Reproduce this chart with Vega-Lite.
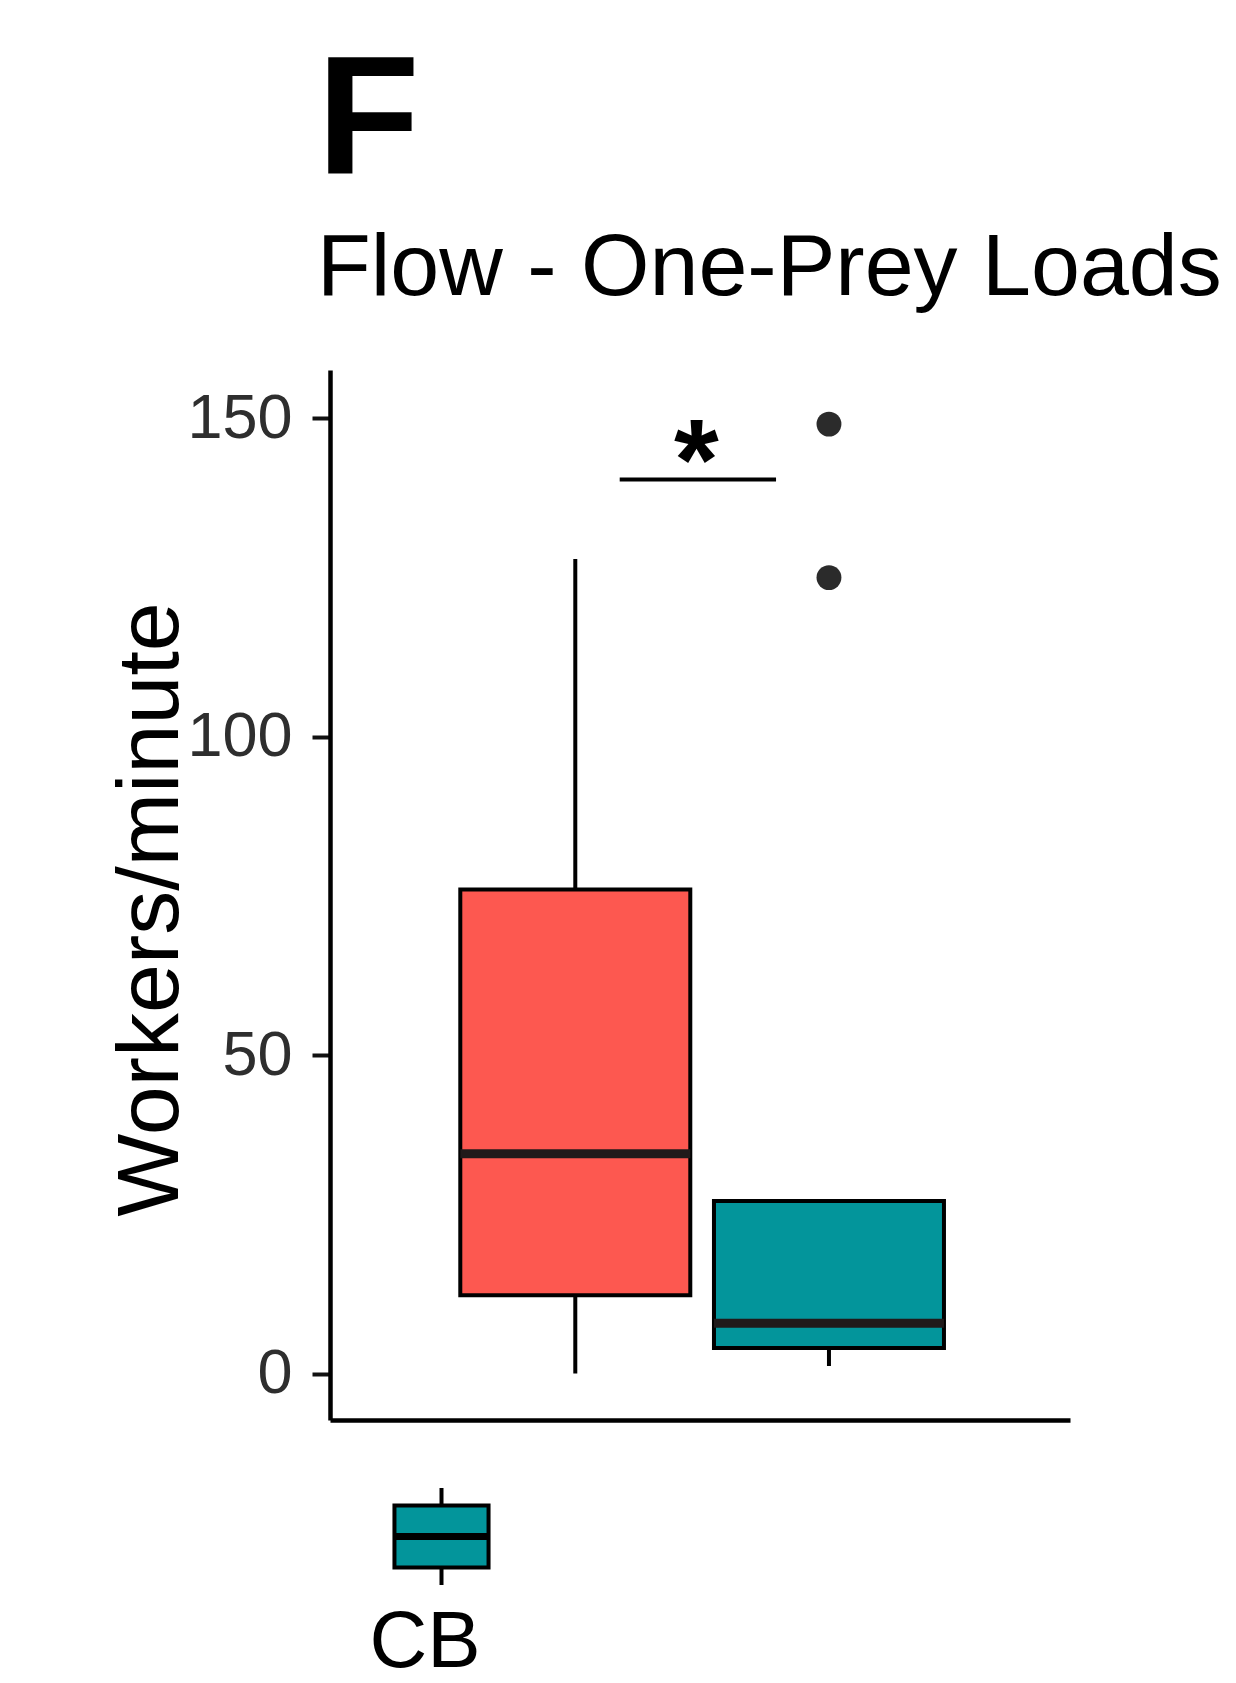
{
  "$schema": "https://vega.github.io/schema/vega-lite/v6.json",
  "autosize": {"type": "none"},
  "padding": {"left": 330, "top": 370, "right": 166, "bottom": 263},
  "width": 740,
  "height": 1050,
  "background": "white",
  "config": {
    "view": {"stroke": null},
    "font": "Liberation Sans"
  },
  "title": {
    "text": "F",
    "subtitle": "Flow - One-Prey Loads",
    "anchor": "start",
    "frame": "group",
    "offset": 56,
    "dx": -13,
    "font": "Liberation Sans",
    "fontSize": 168,
    "fontWeight": "bold",
    "color": "black",
    "subtitleFont": "Liberation Sans",
    "subtitleFontSize": 88,
    "subtitleColor": "black",
    "subtitlePadding": 16
  },
  "datasets": {
    "boxes": [
      {"group": "C", "pos": 0.795, "lower": 0, "q1": 12.3, "median": 34.5, "q3": 76.0, "upper": 127.9},
      {"group": "CB", "pos": 1.212, "lower": 1.2, "q1": 4.0, "median": 7.9, "q3": 27.1, "upper": 27.1}
    ],
    "outliers": [
      {"group": "CB", "pos": 1.212, "value": 149.1},
      {"group": "CB", "pos": 1.212, "value": 125.0}
    ],
    "signif": [
      {"start": 0.868, "end": 1.125, "y": 140.4, "label": "*", "mid": 0.994, "labelY": 137.4}
    ]
  },
  "layer": [
    {
      "data": {"name": "boxes"},
      "mark": {"type": "rule", "color": "black", "strokeWidth": 4},
      "encoding": {
        "x": {"field": "pos", "type": "quantitative", "scale": {"domain": [0.4, 1.6], "nice": false, "zero": false},
              "axis": {"title": null, "ticks": false, "labels": false, "grid": false, "domain": true, "domainColor": "black", "domainWidth": 4.5}},
        "y": {"field": "lower", "type": "quantitative", "scale": {"domain": [-7.3, 157.6], "nice": false, "zero": false},
              "axis": {"title": "Workers/minute", "values": [0, 50, 100, 150], "grid": false,
                       "domainColor": "black", "domainWidth": 4.5,
                       "tickColor": "#111111", "tickWidth": 4, "tickSize": 18,
                       "labelFontSize": 63, "labelColor": "#2e2e2e", "labelPadding": 20, "labelFont": "Liberation Sans",
                       "titleFontSize": 88, "titleColor": "black", "titleFont": "Liberation Sans", "titleFontWeight": "normal",
                       "titleAngle": -90, "titleX": -153, "titleY": 539, "titleAlign": "center", "titleBaseline": "alphabetic"}},
        "y2": {"field": "upper"}
      }
    },
    {
      "data": {"name": "boxes"},
      "mark": {"type": "bar", "orient": "vertical", "size": 230, "stroke": "black", "strokeWidth": 4, "opacity": 1},
      "encoding": {
        "x": {"field": "pos", "type": "quantitative"},
        "y": {"field": "q1", "type": "quantitative"},
        "y2": {"field": "q3"},
        "fill": {"field": "group", "type": "nominal",
                 "scale": {"domain": ["C", "CB"], "range": ["#FD5850", "#03959B"]},
                 "legend": {"values": ["CB"], "title": null, "orient": "none", "legendX": 61, "legendY": 1116,
                            "padding": 0,
                            "symbolType": "M-0.97,-0.64H0.97V0.64H-0.97Z M-0.97,-0.03H0.97 M-0.97,0.03H0.97 M0,-0.64V-1 M0,0.64V1",
                            "symbolSize": 9409, "symbolStrokeColor": "black", "symbolStrokeWidth": 4, "symbolOpacity": 1,
                            "labelFontSize": 80, "labelColor": "black", "labelFont": "Liberation Sans",
                            "labelAlign": "center", "labelBaseline": "alphabetic",
                            "encode": {"labels": {"update": {"dx": {"value": -71}, "dy": {"value": 130}}}}}}
      }
    },
    {
      "data": {"name": "boxes"},
      "mark": {"type": "tick", "orient": "horizontal", "size": 230, "thickness": 9, "color": "#201a1a", "opacity": 1},
      "encoding": {
        "x": {"field": "pos", "type": "quantitative"},
        "y": {"field": "median", "type": "quantitative"}
      }
    },
    {
      "data": {"name": "outliers"},
      "mark": {"type": "point", "filled": true, "color": "#2b2b2b", "size": 620, "opacity": 1},
      "encoding": {
        "x": {"field": "pos", "type": "quantitative"},
        "y": {"field": "value", "type": "quantitative"}
      }
    },
    {
      "data": {"name": "signif"},
      "mark": {"type": "rule", "color": "black", "strokeWidth": 4},
      "encoding": {
        "x": {"field": "start", "type": "quantitative"},
        "x2": {"field": "end"},
        "y": {"field": "y", "type": "quantitative"}
      }
    },
    {
      "data": {"name": "signif"},
      "mark": {"type": "text", "fontSize": 115, "fontWeight": "bold", "color": "black", "align": "center", "baseline": "alphabetic", "font": "Liberation Sans"},
      "encoding": {
        "x": {"field": "mid", "type": "quantitative"},
        "y": {"field": "labelY", "type": "quantitative"},
        "text": {"field": "label"}
      }
    }
  ]
}
